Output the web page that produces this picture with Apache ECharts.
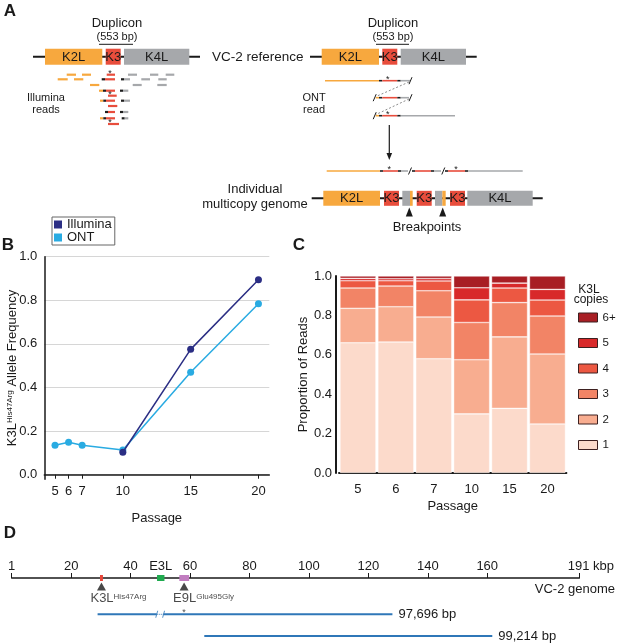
<!DOCTYPE html>
<html>
<head>
<meta charset="utf-8">
<script src="https://cdn.jsdelivr.net/npm/echarts@6/dist/echarts.min.js"></script>
<style>
  html, body { margin: 0; padding: 0; background: #fff; }
  #main { width: 617px; height: 643px; }
</style>
</head>
<body>
<div id="main"></div>
<script>
// ---- panel B: allele frequency
var passages = [5, 6, 7, 10, 15, 20];
var illuminaPassage = [10, 15, 20];
var illuminaFreq = [0.103, 0.575, 0.894];
var ontFreq = [0.135, 0.149, 0.135, 0.113, 0.470, 0.784];
var freqTicks = [0, 0.2, 0.4, 0.6, 0.8, 1.0];

// ---- panel C: K3L copies per read, by passage (bottom -> top)
var passageLabels = ['5', '6', '7', '10', '15', '20'];
var copyNames = ['1', '2', '3', '4', '5', '6+'];
var copies1 = [0.661, 0.665, 0.580, 0.300, 0.328, 0.249];
var copies2 = [0.175, 0.179, 0.212, 0.275, 0.363, 0.355];
var copies3 = [0.103, 0.105, 0.133, 0.189, 0.174, 0.193];
var copies4 = [0.037, 0.027, 0.050, 0.115, 0.074, 0.081];
var copies5 = [0.012, 0.010, 0.012, 0.061, 0.025, 0.054];
var copies6 = [0.012, 0.014, 0.013, 0.060, 0.036, 0.068];

// ---- panel D: VC-2 genome (kbp)
var genomeTicks = [0, 20, 40, 60, 80, 100, 120, 140, 160, 191];
var geneNames = ['K3L', 'E3L', 'E9L'];
var geneStart = [29.7, 48.9, 56.4];
var geneEnd = [30.7, 51.4, 59.7];
var mutGene = ['K3L', 'E9L'];
var mutChange = ['His47Arg', 'Glu495Gly'];
var mutPos = [30.2, 58.0];
var readStart = [28.9, 64.8];
var readEnd = [128.1, 161.7];
var readLength = ['97,696 bp', '99,214 bp'];
var readBreak = [48.8, 51.1]; // gap drawn in first read

var FONT = 'Liberation Sans, Arial, Helvetica, sans-serif';
var INK = '#1a1a1a';
var copyColors = ['#fcdacb', '#f8ad90', '#f28466', '#ec5842', '#d8292a', '#a81e24'];
var geneColors = ['#e8463a', '#1faa4f', '#c17dc0'];
var readColor = '#2f77b8';

// ---------- panel A schematic helpers
var COL = { o: '#f7a83e', r: '#e84d3c', g: '#a6a8ab', k: '#1e1e1e' };

function aText(x, y, s, size, align, weight) {
  return { type: 'text', silent: true, style: { text: s, x: x, y: y, fill: INK, fontSize: size, fontFamily: FONT,
    fontWeight: weight || 'normal', align: align || 'center', verticalAlign: 'middle' } };
}
function aLine(x1, y1, x2, y2, c, w, dash) {
  return { type: 'line', silent: true, shape: { x1: x1, y1: y1, x2: x2, y2: y2 },
    style: { stroke: c, lineWidth: w, lineDash: dash || null } };
}
function aGenome(x1, x2, y, h, boxes, els) {
  els.push(aLine(x1, y, x2, y, INK, 2));
  boxes.forEach(function (b) {
    els.push({ type: 'rect', silent: true, shape: { x: b[0], y: y - h / 2, width: b[1] - b[0], height: h }, style: { fill: COL[b[2]] } });
    if (b[3]) els.push(aText((b[0] + b[1]) / 2, y + 0.5, b[3], 13));
  });
}
function aRead(y, segs, els, w) {
  segs.forEach(function (s) {
    els.push(aLine(s[0], y, s[1], y, COL[s[2]], w || 2.2));
  });
}
function aStar(x, y, els) { els.push(aText(x, y, '*', 9)); }
function aSlash(x, y, els) { els.push(aLine(x - 1.5, y + 3.5, x + 1.5, y - 3.5, INK, 1)); }
function aTri(x, y, els) {
  els.push({ type: 'polygon', silent: true, shape: { points: [[x, y], [x - 3.5, y + 9], [x + 3.5, y + 9]] }, style: { fill: INK } });
}

var els = [];
// panel letters
els.push(aText(10, 11, 'A', 17, 'center', 'bold'));
els.push(aText(8, 245, 'B', 17, 'center', 'bold'));
els.push(aText(299, 245, 'C', 17, 'center', 'bold'));
els.push(aText(10, 533, 'D', 17, 'center', 'bold'));

// reference + Illumina reads (left)
els.push(aText(117, 23, 'Duplicon', 13));
els.push(aText(117, 37, '(553 bp)', 11));
els.push(aLine(99, 44.3, 133, 44.3, INK, 1));
aGenome(33, 200, 56.7, 16, [[45, 102.3, 'o', 'K2L'], [105.7, 120.7, 'r', 'K3'], [124, 189.3, 'g', 'K4L']], els);
els.push(aText(212, 57, 'VC-2 reference', 13.5, 'left'));
els.push(aText(46, 98, 'Illumina', 11));
els.push(aText(46, 110, 'reads', 11));
var illuminaRows = [
  [74.7, [[66.7, 76, 'o'], [82, 91, 'o'], [106.7, 115, 'r'], [128, 137, 'g'], [150, 158.3, 'g'], [165.7, 174.3, 'g']], 110],
  [79.3, [[57.7, 67.7, 'o'], [74, 83.3, 'o'], [101.7, 105, 'k'], [105, 115, 'r'], [121, 124, 'k'], [124, 130, 'g'], [141.3, 150, 'g'], [158.3, 166.7, 'g']]],
  [85, [[90, 99.3, 'o'], [132.7, 141.7, 'g'], [157.3, 166.7, 'g']]],
  [90.7, [[99, 103, 'o'], [103, 106, 'k'], [106, 115, 'r'], [120, 123, 'k'], [123, 128.3, 'g']]],
  [95.7, [[108, 116.7, 'r']], 110],
  [100.7, [[100, 103.3, 'o'], [103.3, 106, 'k'], [106, 115, 'r'], [121, 124, 'k'], [124, 130, 'g']]],
  [106, [[108, 117.3, 'r']]],
  [112, [[105, 108, 'k'], [108, 115, 'r'], [120, 123, 'k'], [123, 128.3, 'g']]],
  [118.3, [[100, 103.3, 'o'], [103.3, 106, 'k'], [106, 115, 'r'], [121.7, 124.7, 'k'], [124.7, 128.3, 'g']]],
  [124, [[108, 119, 'r']], 110]
];
illuminaRows.forEach(function (row) {
  aRead(row[0], row[1], els);
  if (row[2]) aStar(row[2], row[0] - 1.5, els);
});

// reference + ONT read (right)
els.push(aText(393, 23, 'Duplicon', 13));
els.push(aText(393, 37, '(553 bp)', 11));
els.push(aLine(376, 44.3, 409, 44.3, INK, 1));
aGenome(310, 476.7, 56.7, 16, [[321.7, 379, 'o', 'K2L'], [382.3, 397.3, 'r', 'K3'], [400.7, 466, 'g', 'K4L']], els);
els.push(aText(314, 98, 'ONT', 11));
els.push(aText(314, 110, 'read', 11));
aRead(80.7, [[325, 379, 'o'], [379, 382.3, 'k'], [382.3, 397.3, 'r'], [397.3, 400.7, 'k'], [400.7, 410, 'g']], els, 1.6);
aStar(387.7, 79.5, els); aSlash(410.5, 80.7, els);
els.push(aLine(409, 82, 376, 96.5, '#8c8c8c', 1, [2, 2]));
aRead(97.7, [[375.7, 379, 'o'], [379, 382.3, 'k'], [382.3, 397.3, 'r'], [397.3, 400.7, 'k'], [400.7, 409, 'g']], els, 1.6);
aSlash(374.7, 97.7, els); aSlash(410.5, 97.7, els);
els.push(aLine(409, 99, 376, 114.5, '#8c8c8c', 1, [2, 2]));
aRead(115.7, [[375.7, 379, 'o'], [379, 382.3, 'k'], [382.3, 397.3, 'r'], [397.3, 400.7, 'k'], [400.7, 455, 'g']], els, 1.6);
aSlash(374.7, 115.7, els); aStar(387.7, 114.5, els);
// arrow
els.push(aLine(389.3, 125, 389.3, 155, INK, 1.2));
els.push({ type: 'polygon', silent: true, shape: { points: [[389.3, 160], [386.5, 153], [392.1, 153]] }, style: { fill: INK } });

// individual multicopy genome
aRead(171, [[326.7, 380, 'o'], [380, 383, 'k'], [383, 398, 'r'], [398, 401, 'k'], [401, 408, 'g'],
  [412, 415, 'k'], [415, 431, 'r'], [431, 434, 'k'], [434, 441, 'g'],
  [445, 448, 'k'], [448, 465, 'r'], [465, 468, 'k'], [468, 522.7, 'g']], els, 1.6);
aStar(389.3, 169.8, els); aStar(456, 169.8, els);
aSlash(410, 171, els); aSlash(443.3, 171, els);
els.push(aText(255, 189.3, 'Individual', 13));
els.push(aText(255, 204, 'multicopy genome', 13));
aGenome(311.7, 542.7, 198.3, 15, [[323.3, 380, 'o', 'K2L'], [384, 399, 'r', 'K3'], [402.3, 410, 'g'], [410, 412.7, 'o'],
  [416.7, 431.7, 'r', 'K3'], [435, 442.3, 'g'], [442.3, 445.7, 'o'], [450, 465, 'r', 'K3'], [467.3, 532.7, 'g', 'K4L']], els);
aTri(409.3, 207.5, els); aTri(442.7, 207.5, els);
els.push(aText(427, 227.7, 'Breakpoints', 13));

// panel B y title (rotated, with superscript)
els.push({
  type: 'text', silent: true, x: 12, y: 368, rotation: Math.PI / 2,
  style: {
    text: '{n|K3L}{s|His47Arg}{n| Allele Frequency}', align: 'center', verticalAlign: 'middle',
    rich: {
      n: { fontSize: 13, fill: INK, fontFamily: FONT },
      s: { fontSize: 8, fill: INK, fontFamily: FONT, verticalAlign: 'top' }
    }
  }
});

// panel C legend title, panel D caption
els.push(aText(589, 290, 'K3L', 12));
els.push(aText(591, 299.5, 'copies', 12));
els.push(aText(615, 589.5, 'VC-2 genome', 13, 'right'));

// ---------- series
var series = [];
series.push({
  name: 'Illumina', type: 'line', xAxisIndex: 0, yAxisIndex: 0,
  data: illuminaPassage.map(function (p, i) { return [p, illuminaFreq[i]]; }),
  symbol: 'circle', symbolSize: 7, itemStyle: { color: '#2b2e84' }, lineStyle: { color: '#2b2e84', width: 1.5 }, z: 3
});
series.push({
  name: 'ONT', type: 'line', xAxisIndex: 0, yAxisIndex: 0,
  data: passages.map(function (p, i) { return [p, ontFreq[i]]; }),
  symbol: 'circle', symbolSize: 7, itemStyle: { color: '#29abe2' }, lineStyle: { color: '#29abe2', width: 1.5 }, z: 2
});

var copyData = [copies1, copies2, copies3, copies4, copies5, copies6];
copyNames.forEach(function (n, i) {
  series.push({
    name: n, type: 'bar', stack: 'copies', xAxisIndex: 1, yAxisIndex: 1,
    data: copyData[i], barWidth: 36,
    itemStyle: { color: copyColors[i], borderColor: 'rgba(255,255,255,0.7)', borderWidth: 0.6 }
  });
});

// panel D: gene boxes
series.push({
  type: 'custom', xAxisIndex: 2, yAxisIndex: 2, silent: true, z: 4,
  data: geneNames.map(function (g, i) { return [geneStart[i], geneEnd[i]]; }),
  renderItem: function (params, api) {
    var s = api.coord([api.value(0), 0]);
    var e = api.coord([api.value(1), 0]);
    var w = Math.max(e[0] - s[0], 2.5);
    var kids = [{ type: 'rect', shape: { x: s[0], y: s[1] - 3, width: w, height: 6 }, style: { fill: geneColors[params.dataIndex] } }];
    if (geneNames[params.dataIndex] === 'E3L') {
      kids.push({ type: 'text', style: { text: 'E3L', x: s[0] + w / 2, y: s[1] - 12, align: 'center', verticalAlign: 'middle',
        fontSize: 13, fontFamily: FONT, fill: INK } });
    }
    return { type: 'group', children: kids };
  }
});
// mutation triangles
series.push({
  type: 'scatter', xAxisIndex: 2, yAxisIndex: 2, silent: true,
  data: mutPos.map(function (p) { return [p, 0.14]; }),
  symbol: 'triangle', symbolSize: [9, 8], itemStyle: { color: INK },
  label: {
    show: true, position: 'bottom', align: 'left', offset: [-11, 0], distance: 2,
    formatter: function (p) { return '{n|' + mutGene[p.dataIndex] + '}{s|' + mutChange[p.dataIndex] + '}'; },
    rich: {
      n: { fontSize: 13, fontFamily: FONT, color: INK },
      s: { fontSize: 8, fontFamily: FONT, color: INK, verticalAlign: 'top' }
    }
  }
});
// reads
var readRows = [0.605, 0.967];
var readPieces = [
  { row: 0, from: readStart[0], to: readBreak[0], label: null },
  { row: 0, from: readBreak[1], to: readEnd[0], label: readLength[0] },
  { row: 1, from: readStart[1], to: readEnd[1], label: readLength[1] }
];
readPieces.forEach(function (pc) {
  series.push({
    type: 'line', xAxisIndex: 2, yAxisIndex: 2, silent: true, symbol: 'none',
    data: [[pc.from, readRows[pc.row]], [pc.to, readRows[pc.row]]],
    lineStyle: { color: readColor, width: 2 },
    endLabel: { show: !!pc.label, formatter: pc.label || '', color: INK, fontSize: 13, fontFamily: FONT, distance: 6 }
  });
});
series.push({
  type: 'line', xAxisIndex: 2, yAxisIndex: 2, silent: true, symbol: 'none',
  data: [[readBreak[0], readRows[0]], [readBreak[1], readRows[0]]],
  lineStyle: { color: readColor, width: 1, type: 'dotted' }
});
series.push({
  type: 'scatter', xAxisIndex: 2, yAxisIndex: 2, silent: true,
  data: readBreak.map(function (b) { return [b, readRows[0]]; }),
  symbol: 'path://M2,0 L3,0 L1,10 L0,10 Z', symbolSize: [3, 7], itemStyle: { color: readColor }
});
series.push({
  type: 'scatter', xAxisIndex: 2, yAxisIndex: 2, silent: true,
  data: [[mutPos[1], readRows[0]]], symbolSize: 0.1,
  label: { show: true, formatter: '*', position: 'top', distance: -3, fontSize: 9, color: INK }
});

var option = {
  animation: false,
  backgroundColor: '#fff',
  textStyle: { fontFamily: FONT },
  graphic: { elements: els },
  legend: [{
    data: ['Illumina', 'ONT'], orient: 'vertical', left: 52, top: 217, icon: 'rect',
    itemWidth: 8, itemHeight: 8, itemGap: 0, padding: [1, 3, 1, 2],
    borderColor: '#666', borderWidth: 1,
    textStyle: { fontSize: 13, color: INK, fontFamily: FONT }
  }, {
    data: ['6+', '5', '4', '3', '2', '1'], orient: 'vertical', left: 578, top: 311.5, icon: 'rect',
    itemWidth: 19, itemHeight: 9, itemGap: 13.5, padding: 0,
    itemStyle: { borderColor: '#3d2020', borderWidth: 1 },
    textStyle: { fontSize: 11.5, color: INK, fontFamily: FONT }
  }],
  grid: [
    { left: 44.3, top: 256.7, width: 225, height: 222.6 },
    { left: 339, top: 276, width: 227.4, height: 197 },
    { left: 11.7, top: 578, width: 571.6, height: 60 }
  ],
  xAxis: [{
    gridIndex: 0, type: 'value', min: 4.21, max: 20.8,
    name: 'Passage', nameLocation: 'middle', nameGap: 33,
    nameTextStyle: { fontSize: 13, color: INK },
    axisLine: { lineStyle: { color: INK, width: 1.5 } },
    axisTick: { show: true, customValues: passages, length: 4, lineStyle: { color: INK } },
    axisLabel: { customValues: passages, fontSize: 13, color: INK, margin: 6 },
    splitLine: { show: false }
  }, {
    gridIndex: 1, type: 'category', data: passageLabels,
    name: 'Passage', nameLocation: 'middle', nameGap: 27,
    nameTextStyle: { fontSize: 13, color: INK },
    axisLine: { lineStyle: { color: INK, width: 2 } },
    axisTick: { show: false },
    axisLabel: { fontSize: 13, color: INK, margin: 10 }
  }, {
    gridIndex: 2, type: 'value', min: 0, max: 191, position: 'top',
    axisLine: { lineStyle: { color: INK, width: 1.5 } },
    axisTick: { show: true, customValues: genomeTicks, length: 5, lineStyle: { color: INK } },
    axisLabel: {
      customValues: genomeTicks, fontSize: 13, color: INK, margin: 5,
      formatter: function (v) {
        if (v === 0) return '1';
        if (v === 191) return '{k|191 kbp}';
        return String(v);
      },
      rich: { k: { fontSize: 13, color: INK, fontFamily: FONT, padding: [0, 0, 0, 23] } }
    },
    splitLine: { show: false }
  }],
  yAxis: [{
    gridIndex: 0, type: 'value', min: -0.021, max: 1,
    axisLine: { show: true, lineStyle: { color: INK, width: 1.5 } },
    axisTick: { show: false, customValues: freqTicks },
    axisLabel: { customValues: freqTicks, fontSize: 13, color: INK, margin: 7, formatter: function (v) { return v.toFixed(1); } },
    splitLine: { show: true, lineStyle: { color: '#d6d6d6', width: 1 } }
  }, {
    gridIndex: 1, type: 'value', min: 0, max: 1, interval: 0.2, offset: 3,
    name: 'Proportion of Reads', nameLocation: 'middle', nameGap: 26,
    nameTextStyle: { fontSize: 13, color: INK },
    axisLine: { show: true, lineStyle: { color: INK, width: 2 } },
    axisTick: { show: false },
    axisLabel: { fontSize: 13, color: INK, margin: 4, formatter: function (v) { return v.toFixed(1); } },
    splitLine: { show: false }
  }, {
    gridIndex: 2, type: 'value', min: 0, max: 1, inverse: true, show: false
  }],
  series: series
};

var chart = echarts.init(document.getElementById('main'));
chart.setOption(option);
</script>
</body>
</html>
